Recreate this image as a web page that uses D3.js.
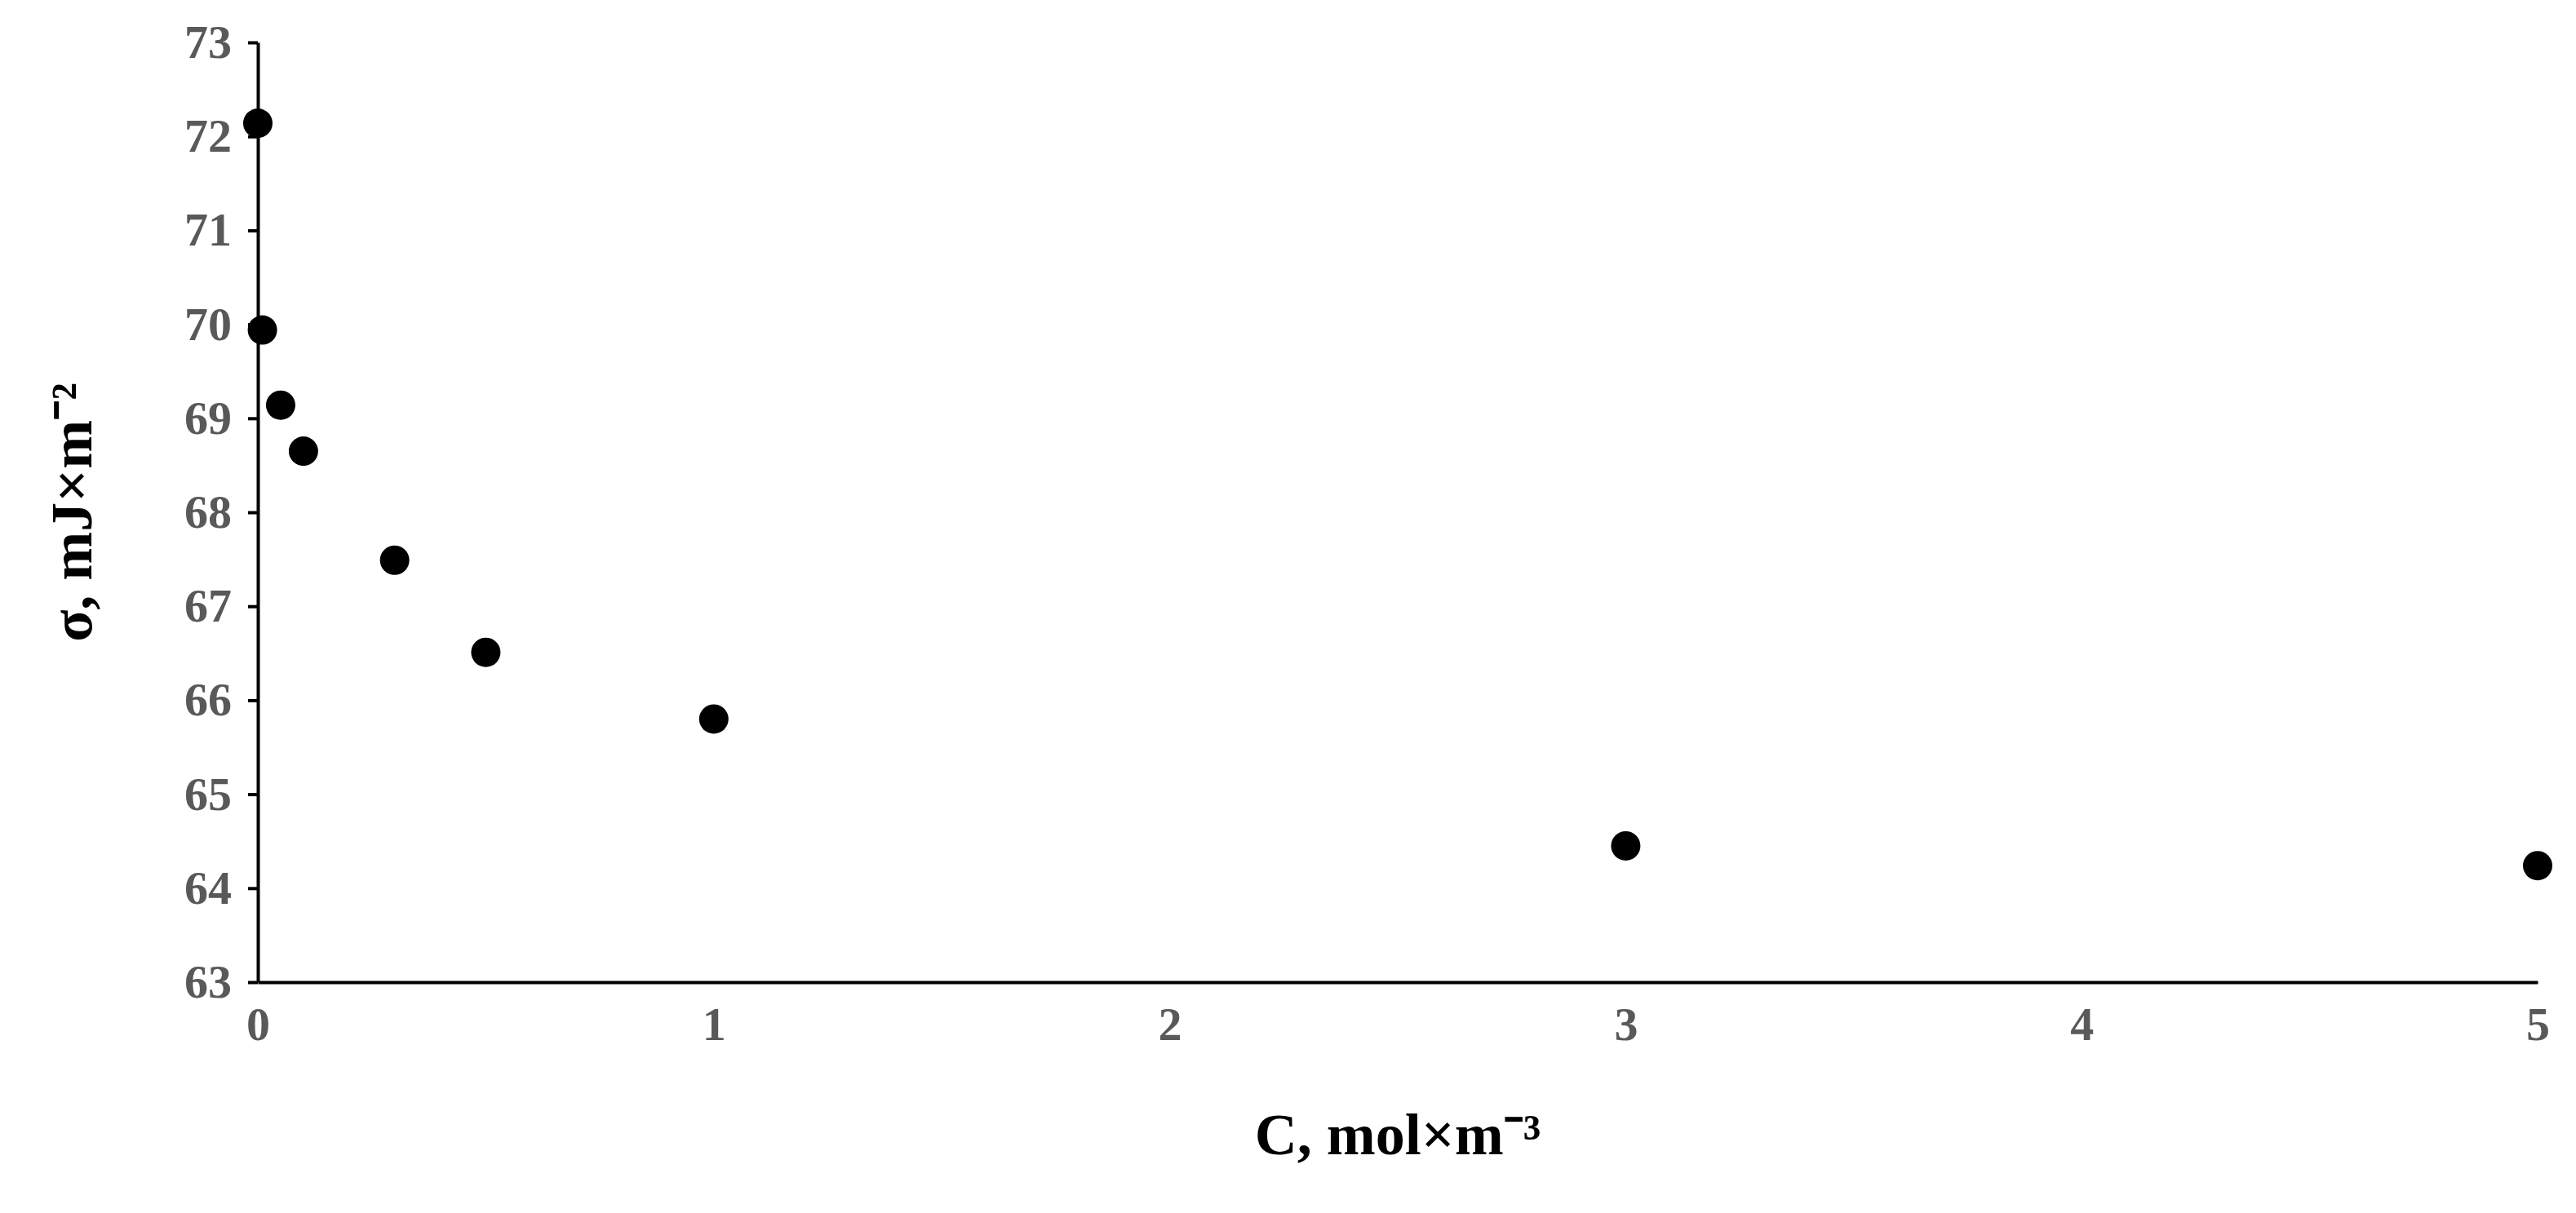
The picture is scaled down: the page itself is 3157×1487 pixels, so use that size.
<!DOCTYPE html>
<meta charset="utf-8">
<style>
    body { margin: 0; background: #fff; }
    .tick text { font: bold 58px "Liberation Serif", serif; fill: #595959; }
    .title { font: bold 72px "Liberation Serif", serif; fill: #000; }
</style>
<body>
<script src="https://cdn.jsdelivr.net/npm/d3@7"></script>
<script>

    var concentration = [0, 0.01, 0.05, 0.1, 0.3, 0.5, 1, 3, 5];
    var tension = [72.14, 69.94, 69.14, 68.65, 67.49, 66.51, 65.80, 64.45, 64.24];
    var xTicks = [0, 1, 2, 3, 4, 5];
    var yTicks = [63, 64, 65, 66, 67, 68, 69, 70, 71, 72, 73];

    var width = 3157,
        height = 1487,
        mLeft = 316, mRight = 3110, mTop = 52, mBottom = 1204;

    var svg = d3.select("body").append("svg")
        .attr("width", width)
        .attr("height", height);

    var x = d3.scaleLinear().domain([0, 5]).range([mLeft, mRight]);
    var y = d3.scaleLinear().domain([63, 73]).range([mBottom, mTop]);

    var xAxis = svg.append("g")
        .attr("transform", "translate(0," + mBottom + ")")
        .call(d3.axisBottom(x).tickValues(xTicks).tickFormat(d3.format("d")).tickSize(0).tickPadding(30));

    var yAxis = svg.append("g")
        .attr("transform", "translate(" + mLeft + ",0)")
        .call(d3.axisLeft(y).tickValues(yTicks).tickFormat(d3.format("d")).tickSizeInner(12).tickSizeOuter(0).tickPadding(20));

    [xAxis, yAxis].forEach(function(a) {
        a.select(".domain").attr("stroke", "#000").attr("stroke-width", 4);
        a.selectAll(".tick line").attr("stroke", "#000").attr("stroke-width", 4);
    });

    svg.selectAll(".dot")
        .data(concentration)
        .enter().append("circle")
        .attr("class", "dot")
        .attr("cx", function(d) { return x(d); })
        .attr("cy", function(d, i) { return y(tension[i]); })
        .attr("r", 18)
        .attr("fill", "#000");

    svg.append("text")
        .attr("class", "title")
        .attr("text-anchor", "middle")
        .attr("x", (mLeft + mRight) / 2)
        .attr("y", 1415)
        .text("C, mol×m⁻³");

    svg.append("text")
        .attr("class", "title")
        .attr("text-anchor", "middle")
        .attr("transform", "translate(112," + ((mTop + mBottom) / 2) + ") rotate(-90)")
        .text("σ, mJ×m⁻²");

</script>
